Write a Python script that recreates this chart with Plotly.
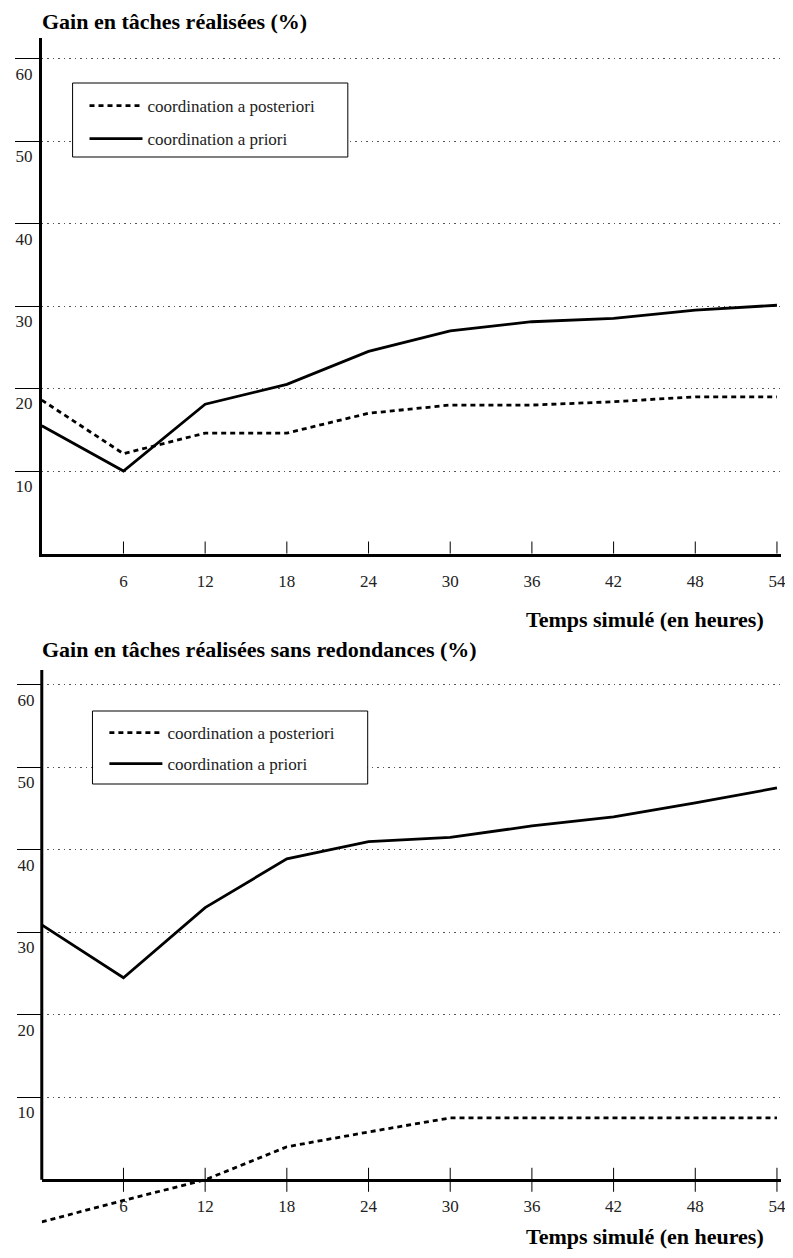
import plotly.graph_objects as go

# data
hours = [0, 6, 12, 18, 24, 30, 36, 42, 48, 54]
x_ticks = [6, 12, 18, 24, 30, 36, 42, 48, 54]
y_ticks = [10, 20, 30, 40, 50, 60]

gain_posteriori = [18.6, 12.1, 14.6, 14.6, 17.0, 18.0, 18.0, 18.4, 19.0, 19.0]
gain_priori = [15.5, 10.0, 18.1, 20.5, 24.5, 27.0, 28.1, 28.5, 29.5, 30.1]

gain_sr_posteriori = [-5.1, -2.5, 0.0, 4.0, 5.8, 7.5, 7.5, 7.5, 7.5, 7.5]
gain_sr_priori = [30.9, 24.5, 33.0, 38.9, 41.0, 41.5, 42.9, 44.0, 45.7, 47.5]

series_names = ["coordination a posteriori", "coordination a priori"]
titles = ["Gain en tâches réalisées (%)", "Gain en tâches réalisées sans redondances (%)"]
x_title = "Temps simulé (en heures)"

# the page body keeps its 8px margin, so the figure is a bit smaller than the window
OFF = 8
W, H = 793 - OFF, 1258 - 2 * OFF
FONT = "Liberation Serif, Times New Roman, serif"


def px(x):
    """window pixel -> paper x"""
    return (x - OFF) / W


def py(y):
    """window pixel -> paper y"""
    return 1 - (y - OFF) / H


# per panel: axes, y range, y domain (pixels), series, legend box, title rows
panels = [
    dict(ax="x", ay="y", leg="legend", yr=[0, 62.5], ydom=(553.5, 38), zero=553.5,
         data=(gain_posteriori, gain_priori), box=(73, 83, 350, 157), leg_top=88,
         title_y=21, xt_y=619),
    dict(ax="x2", ay="y2", leg="legend2", yr=[-5.6, 61.8], ydom=(1226, 670), zero=1180,
         data=(gain_sr_posteriori, gain_sr_priori), box=(93, 711, 370, 784), leg_top=715,
         title_y=649, xt_y=1236),
]

fig = go.Figure()
layout = dict(
    width=W, height=H, autosize=False,
    margin=dict(l=0, r=0, t=0, b=0),
    paper_bgcolor="white", plot_bgcolor="white",
    font=dict(family=FONT, color="#222"),
    shapes=[], annotations=[],
)

for i, p in enumerate(panels):
    posteriori, priori = p["data"]
    fig.add_trace(go.Scatter(
        x=hours, y=posteriori, mode="lines", name=series_names[0],
        line=dict(color="black", width=2.8, dash="5px,4px"),
        xaxis=p["ax"], yaxis=p["ay"], legend=p["leg"], legendgroup=f"a{i}",
    ))
    fig.add_trace(go.Scatter(
        x=hours, y=priori, mode="lines", name=series_names[1],
        line=dict(color="black", width=2.8),
        xaxis=p["ax"], yaxis=p["ay"], legend=p["leg"], legendgroup=f"b{i}",
    ))

    xk = "xaxis" if i == 0 else "xaxis2"
    yk = "yaxis" if i == 0 else "yaxis2"
    xax = dict(
        domain=[px(42), px(786)], range=[0, 54.3],
        tickvals=x_ticks, ticks="", showgrid=False, zeroline=False,
        showline=True, linewidth=3, linecolor="black",
        tickfont=dict(size=17, color="#222"), ticklabelstandoff=10,
    )
    if i == 0:
        xax["anchor"] = p["ay"]
    else:
        xax["anchor"] = "free"
        xax["position"] = py(p["zero"])
    layout[xk] = xax
    layout[yk] = dict(
        domain=[py(p["ydom"][0]), py(p["ydom"][1])], range=p["yr"],
        tickvals=y_ticks, ticks="outside", ticklen=24, tickwidth=1, tickcolor="black",
        showline=(i == 0), linewidth=3, linecolor="black", zeroline=False,
        showgrid=True, gridcolor="#555", gridwidth=1, griddash="1.5px,4px",
        tickfont=dict(size=17, color="#222"),
        ticklabelshift=15, ticklabelstandoff=-21,
        anchor=p["ax"],
    )
    if i == 1:
        # y axis line stops at zero in the lower panel
        layout["shapes"].append(dict(
            type="line", xref="x2 domain", yref="y2", x0=0, x1=0, y0=0, y1=p["yr"][1],
            line=dict(color="black", width=3),
        ))
    # tick marks crossing the x axis
    for t in x_ticks:
        layout["shapes"].append(dict(
            type="line", xref=p["ax"], yref=p["ay"], x0=t, x1=t,
            ysizemode="pixel", yanchor=0, y0=-12, y1=12,
            line=dict(color="black", width=1),
        ))
    # legend frame
    bx0, by0, bx1, by1 = p["box"]
    layout["shapes"].append(dict(
        type="rect", xref="paper", yref="paper",
        x0=px(bx0), x1=px(bx1), y0=py(by1), y1=py(by0),
        fillcolor="white", line=dict(color="black", width=1), layer="above",
    ))
    layout[p["leg"]] = dict(
        x=px(bx0 + 12), y=py(p["leg_top"]), xanchor="left", yanchor="top",
        bgcolor="rgba(0,0,0,0)", borderwidth=0,
        font=dict(size=17, color="#222", family=FONT),
        itemwidth=53, tracegroupgap=8 if i == 0 else 6,
    )
    layout["annotations"].append(dict(
        text=f"<b>{titles[i]}</b>", xref="paper", yref="paper",
        x=px(40), y=py(p["title_y"]), xanchor="left", yanchor="middle",
        showarrow=False, font=dict(size=22, color="black", family=FONT),
    ))
    layout["annotations"].append(dict(
        text=f"<b>{x_title}</b>", xref="paper", yref="paper",
        x=px(771), y=py(p["xt_y"]), xanchor="right", yanchor="middle",
        showarrow=False, font=dict(size=22, color="black", family=FONT),
    ))

fig.update_layout(**layout)
fig.write_html("out.html")
